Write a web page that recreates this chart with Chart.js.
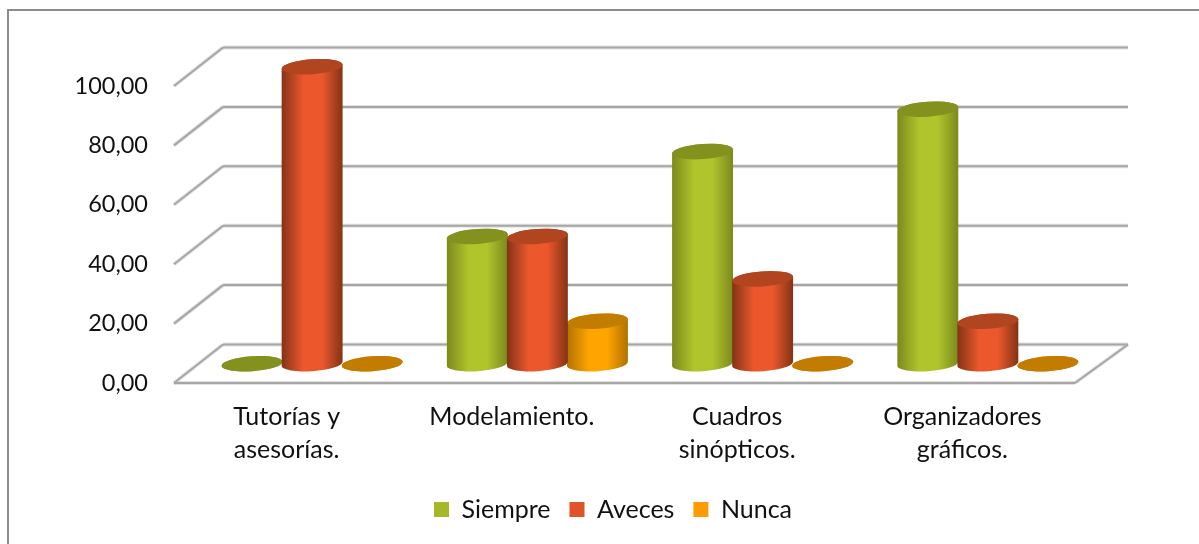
<!DOCTYPE html>
<html>
<head>
<meta charset="utf-8">
<title>Estrategias</title>
<style>
  html, body { margin: 0; background: #fff; overflow: hidden; }
  canvas { display: block; }
</style>
<script src="https://cdn.jsdelivr.net/npm/chart.js@4/dist/chart.umd.min.js"></script>
</head>
<body>
<canvas id="chart" width="1199" height="544"></canvas>
<script>
const categories = [
  ['Tutorías y', 'asesorías.'],
  ['Modelamiento.'],
  ['Cuadros', 'sinópticos.'],
  ['Organizadores', 'gráficos.']
];
const siempre = [0, 42.86, 71.43, 85.71];
const aveces = [100, 42.86, 28.57, 14.29];
const nunca = [0, 14.29, 0, 0];
const seriesNames = ['Siempre', 'Aveces', 'Nunca'];

const FONT = 'Lato, sans-serif';
const shades = [
  { legend: '#a6b727', mid: '#b0c42b', edge: '#7c891d', top: '#83911f' },
  { legend: '#e0522a', mid: '#ec582c', edge: '#833316', top: '#b04520' },
  { legend: '#fd9b00', mid: '#ffa400', edge: '#b07200', top: '#c27c00' }
];
const DEPTH_LEFT = 49;
const DEPTH_RIGHT = 53;
const DEPTH_Y = 38.5;

function line(ctx, x1, y1, x2, y2) {
  ctx.beginPath();
  ctx.moveTo(x1, y1);
  ctx.lineTo(x2, y2);
  ctx.lineWidth = 4;
  ctx.strokeStyle = 'rgba(190,190,190,0.45)';
  ctx.stroke();
  ctx.lineWidth = 2;
  ctx.strokeStyle = '#a6a6a6';
  ctx.stroke();
}

function drawWalls(chart) {
  const { ctx, chartArea, scales } = chart;
  const backLeft = chartArea.left + DEPTH_LEFT;
  const backRight = chartArea.right + DEPTH_RIGHT;
  scales.y.ticks.forEach(function (tick) {
    const y = scales.y.getPixelForValue(tick.value);
    line(ctx, chartArea.left, y, backLeft, y - DEPTH_Y);
    line(ctx, backLeft, y - DEPTH_Y, backRight, y - DEPTH_Y);
  });
  const floor = scales.y.getPixelForValue(0);
  line(ctx, chartArea.left, floor, chartArea.right, floor);
  line(ctx, chartArea.right, floor, backRight, floor - DEPTH_Y);
}

function drawCylinder(ctx, bar, shade) {
  const cx = bar.x + 25.5;
  const top = bar.y - DEPTH_Y / 2;
  const base = bar.base - DEPTH_Y / 2;
  const rx = bar.width / 2 + 0.5;
  const ry = 7.5;
  const tilt = -0.07;

  const side = ctx.createLinearGradient(cx - rx, 0, cx + rx, 0);
  side.addColorStop(0, shade.edge);
  side.addColorStop(0.36, shade.mid);
  side.addColorStop(0.66, shade.mid);
  side.addColorStop(1, shade.edge);

  ctx.beginPath();
  ctx.ellipse(cx, base, rx, ry, tilt, 0, Math.PI);
  ctx.ellipse(cx, top, rx, ry, tilt, Math.PI, Math.PI * 2);
  ctx.closePath();
  ctx.fillStyle = side;
  ctx.fill();

  ctx.beginPath();
  ctx.ellipse(cx, top, rx, ry, tilt, 0, Math.PI * 2);
  ctx.fillStyle = shade.top;
  ctx.fill();
}

const cylinders = {
  id: 'cylinders',
  beforeDatasetsDraw: function (chart) {
    drawWalls(chart);
    // red goes last, it overlaps both neighbours in the original
    [0, 2, 1].forEach(function (i) {
      chart.getDatasetMeta(i).data.forEach(function (bar) {
        drawCylinder(chart.ctx, bar, shades[i]);
      });
    });
  },
  beforeDatasetDraw: function () {
    return false;
  },
  afterDraw: function (chart) {
    const ctx = chart.ctx;
    ctx.strokeStyle = '#8c8c8c';
    ctx.lineWidth = 2;
    ctx.beginPath();
    ctx.moveTo(8, 544);
    ctx.lineTo(8, 10);
    ctx.lineTo(1199, 10);
    ctx.stroke();
  }
};

new Chart(document.getElementById('chart'), {
  type: 'bar',
  data: {
    labels: categories,
    datasets: [
      { label: seriesNames[0], data: siempre, backgroundColor: shades[0].legend },
      { label: seriesNames[1], data: aveces, backgroundColor: shades[1].legend },
      { label: seriesNames[2], data: nunca, backgroundColor: shades[2].legend }
    ]
  },
  options: {
    responsive: false,
    animation: false,
    categoryPercentage: 0.8,
    barPercentage: 1,
    layout: { padding: { left: 27, right: 0, top: 86, bottom: 12 } },
    plugins: {
      tooltip: { enabled: false },
      legend: {
        position: 'bottom',
        labels: {
          boxWidth: 15,
          boxHeight: 15,
          padding: 19,
          color: '#111',
          font: { family: FONT, size: 25 }
        }
      }
    },
    scales: {
      x: {
        grid: { display: false },
        border: { display: false },
        ticks: {
          color: '#111',
          padding: 10,
          maxRotation: 0,
          font: { family: FONT, size: 25, lineHeight: 1.3 }
        },
        afterFit: function (scale) { scale.height = 95; }
      },
      y: {
        min: 0,
        max: 100,
        grid: { display: false, drawTicks: false },
        border: { display: false },
        ticks: {
          stepSize: 20,
          color: '#111',
          padding: 26,
          font: { family: FONT, size: 23.5 },
          callback: function (value) {
            return value.toFixed(2).replace('.', ',');
          }
        },
        afterFit: function (scale) { scale.width = 147; }
      },
      // empty axis, keeps the room on the right of the plot without moving the legend
      spacer: {
        position: 'right',
        grid: { display: false },
        border: { display: false },
        ticks: { display: false },
        afterFit: function (scale) { scale.width = 124; }
      }
    }
  },
  plugins: [cylinders]
});
</script>
</body>
</html>
